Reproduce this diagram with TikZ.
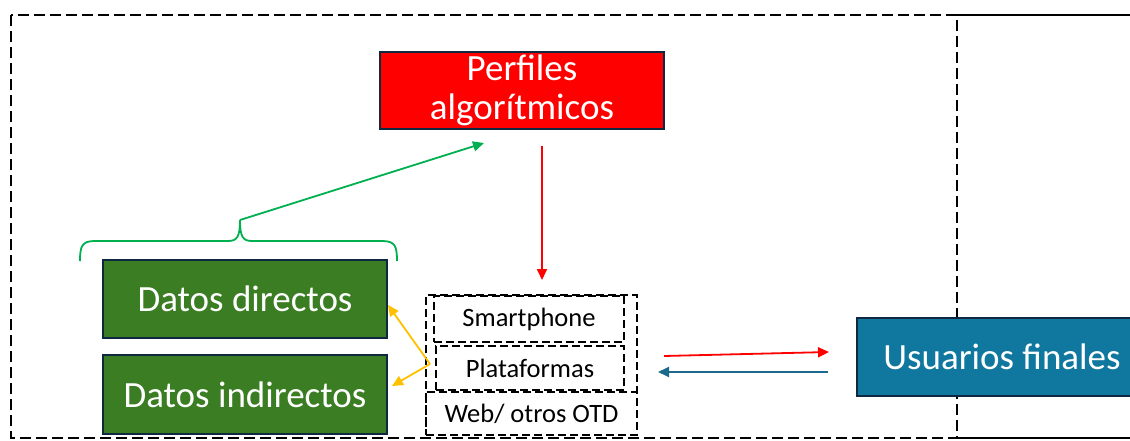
\documentclass[tikz,border=0pt]{standalone}
\usepackage{fontspec}
\setmainfont{Carlito}
\usetikzlibrary{arrows.meta}
\definecolor{navyb}{HTML}{0E2841}
\definecolor{dgreen}{HTML}{3A7D22}
\definecolor{ublue}{HTML}{10779F}
\definecolor{lgreen}{HTML}{00B050}
\definecolor{ayellow}{HTML}{FFC000}
\definecolor{ablue}{HTML}{1B6A8C}
\tikzset{
  bigbox/.style={draw=navyb, line width=2.5pt, text=white, inner sep=0pt, align=center,
    font=\fontsize{37}{39}\selectfont},
  devbox/.style={draw=black, dashed, dash pattern=on 8pt off 4pt, line width=1.8pt, inner sep=0pt,
    font=\fontsize{26.5}{28}\selectfont},
  arr/.style={line width=1.8pt, -{Triangle[length=11pt,width=10pt]}},
}
\begin{document}
\begin{tikzpicture}[x=1pt,y=-1pt]
\useasboundingbox (0,0) rectangle (1130,441);
% frame
\draw[line width=2.5pt, dash pattern=on 11pt off 5pt] (11,15) rectangle (957,438);
\draw[line width=2.5pt] (957,15) -- (1130,15);
\draw[line width=2.5pt] (957,438) -- (1130,438);
% main boxes
\node[bigbox, fill=red, minimum width=284pt, minimum height=77pt] (perf) at (522,90.5) {Perfiles\\algorítmicos};
\node[bigbox, fill=dgreen, minimum width=284pt, minimum height=78pt] (dd) at (245,299) {Datos directos};
\node[bigbox, fill=dgreen, minimum width=284pt, minimum height=79pt] (di) at (245,394.5) {Datos indirectos};
\node[bigbox, fill=ublue, minimum width=290pt, minimum height=78pt] (uf) at (1002,357) {Usuarios finales};
% device boxes
\node[devbox, minimum width=211pt, minimum height=140pt] (grp) at (531.5,365) {};
\node[devbox, minimum width=190pt, minimum height=46pt] (sm) at (529,319) {Smartphone};
\node[devbox, minimum width=188pt, minimum height=44pt] (pl) at (530,368) {Plataformas};
\node[devbox, minimum width=211pt, minimum height=43pt] (web) at (531.5,413.5) {Web/ otros OTD};
% brace
\coordinate (bt) at (240,220);
\coordinate (ga) at (484,143);
\draw[lgreen, line width=1.8pt] (80,261) .. controls (80,246) and (82,241) .. (95,241) -- (228,241)
  .. controls (237,241) and (240,237) .. (bt) .. controls (240,237) and (243,241) .. (252,241)
  -- (382,241) .. controls (395,241) and (397,246) .. (397,261);
\draw[arr, lgreen] (bt) -- (ga);
% red down arrow
\coordinate (r1) at (542,146);
\coordinate (r2) at (542,280);
\draw[arr, red] (r1) -- (r2);
% yellow arrows
\coordinate (yo) at (430,364);
\coordinate (y1) at (388,305);
\coordinate (y2) at (392,386);
\draw[arr, ayellow] (yo) -- (y1);
\draw[arr, ayellow] (yo) -- (y2);
% horizontal arrows
\coordinate (h1) at (664,356);
\coordinate (h2) at (829,352);
\coordinate (h3) at (828,372);
\coordinate (h4) at (658,372);
\draw[arr, red] (h1) -- (h2);
\draw[arr, ablue] (h3) -- (h4);
\end{tikzpicture}
\end{document}
